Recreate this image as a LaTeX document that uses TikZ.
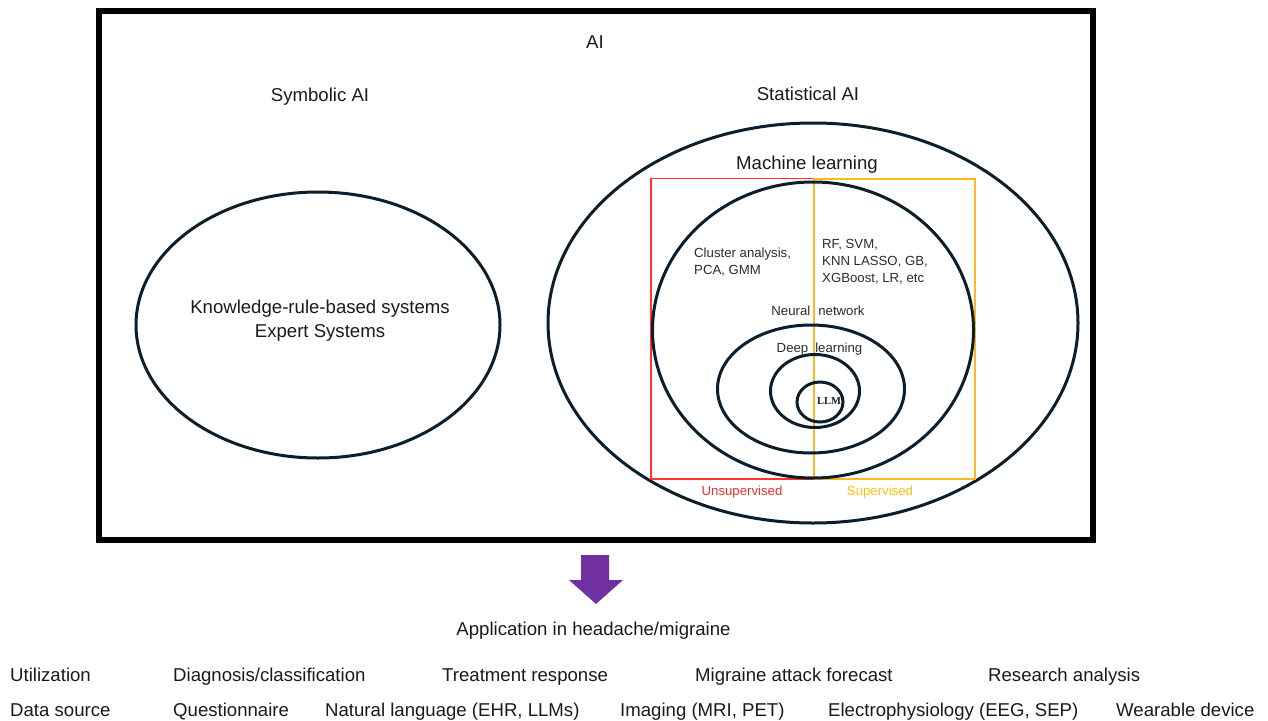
\documentclass[tikz,border=0pt]{standalone}
\usepackage{fontspec}
\setmainfont{Liberation Sans}
\newfontfamily\llmfont{Liberation Serif}
\usetikzlibrary{shapes.geometric}
\definecolor{navy}{HTML}{0B1E2C}
\definecolor{txt}{HTML}{1A1A1A}
\definecolor{txtsm}{HTML}{2B2B2B}
\definecolor{redb}{HTML}{FF3333}
\definecolor{orb}{HTML}{FFB820}
\definecolor{redt}{HTML}{E8302A}
\definecolor{ort}{HTML}{FFBE10}
\definecolor{purp}{HTML}{7030A0}
\begin{document}
\begin{tikzpicture}[x=1pt,y=-1pt,
  big/.style={font=\fontsize{18.6}{24}\selectfont, text=txt, inner sep=0pt},
  small/.style={font=\fontsize{13.2}{17}\selectfont, text=txtsm, inner sep=0pt},
  ring/.style={draw=navy, line width=3pt, ellipse, inner sep=0pt},
  rowitem/.style={big, anchor=mid west}]
\useasboundingbox (0,0) rectangle (1268,720);
% outer frame
\node[draw=black, line width=6pt, minimum width=994pt, minimum height=529pt, inner sep=0pt] (frame) at (596,275.5) {};
\node[big] (ai) at (595,42) {AI};
\node[big] (sym) at (320,97) {Symbolic AI};
\node[big] (stat) at (808,94) {Statistical AI};
% symbolic ellipse
\node[ring, minimum width=364pt, minimum height=266pt] (symell) at (318,325) {};
\node[big, align=center] (know) at (320,321) {Knowledge-rule-based systems\\Expert Systems};
% machine learning
\node[ring, minimum width=530pt, minimum height=400pt] (ml) at (813,323) {};
\node[big] (mltxt) at (807,165) {Machine learning};
% supervised / unsupervised boxes
\draw[redb, line width=1.5pt] (651,178.5) rectangle (814,479);
\draw[orb, line width=1.5pt] (814,179) rectangle (975,479);
\node[small, text=redt] (unsup) at (742,492) {Unsupervised};
\node[small, text=ort] (sup) at (880,492) {Supervised};
% neural network etc.
\node[ring, minimum width=321pt, minimum height=296pt] (nn) at (813,330) {};
\node[ring, minimum width=187pt, minimum height=128pt] (dl) at (811,389) {};
\node[ring, minimum width=89pt, minimum height=73pt] (tf) at (815,391) {};
\node[ring, minimum width=46pt, minimum height=40pt] (llm) at (820,402) {};
\node[inner sep=0pt, font=\llmfont\bfseries\fontsize{10.5}{12}\selectfont, text=txt] (llmtxt) at (829,401) {LLM};
\node[small, align=left, anchor=north west] (unsuptxt) at (694,248) {Cluster analysis,\\PCA, GMM};
\node[small, align=left, anchor=north west] (suptxt) at (822,239) {RF, SVM,\\KNN LASSO, GB,\\XGBoost, LR, etc};
\node[small] (nntxt) at (818,311) {Neural\hspace{8pt}network};
\node[small] (dltxt) at (819.5,349) {Deep\hspace{7pt}learning};
% block arrow
\fill[purp] (581,555) -- (609,555) -- (609,580) -- (623,580) -- (596,604) -- (569,580) -- (581,580) -- cycle;
\node[big] (app) at (593.5,631) {Application in headache/migraine};
% rows
\node[rowitem] (u0) at (10,679) {Utilization};
\node[rowitem] (u1) at (173,679) {Diagnosis/classification};
\node[rowitem] (u2) at (442,679) {Treatment response};
\node[rowitem] (u3) at (695,679) {Migraine attack forecast};
\node[rowitem] (u4) at (988,679) {Research analysis};
\node[rowitem] (d0) at (10,714) {Data source};
\node[rowitem] (d1) at (173,714) {Questionnaire};
\node[rowitem] (d2) at (325,714) {Natural language (EHR, LLMs)};
\node[rowitem] (d3) at (620,714) {Imaging (MRI, PET)};
\node[rowitem] (d4) at (828,714) {Electrophysiology (EEG, SEP)};
\node[rowitem] (d5) at (1116,714) {Wearable device};
\end{tikzpicture}
\end{document}
